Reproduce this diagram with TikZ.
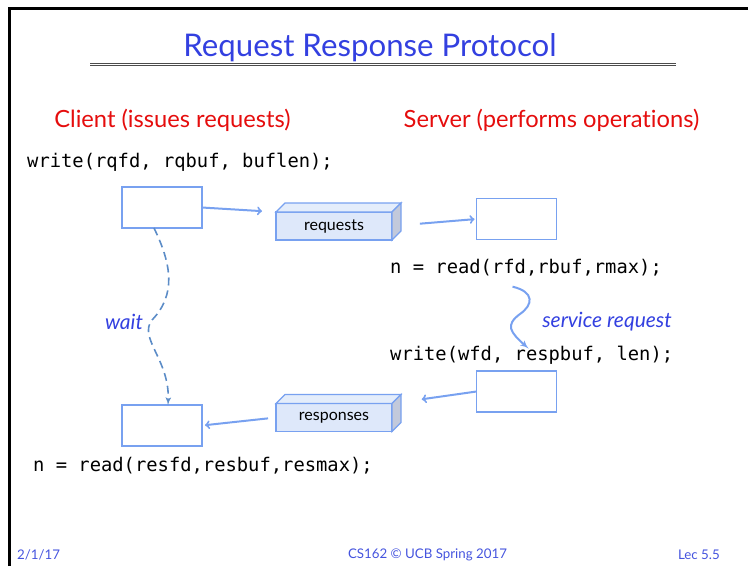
\documentclass[tikz,border=0pt]{standalone}
\usepackage{fontspec}
\setmainfont{Lato}[Ligatures=NoCommon]
\setmonofont{DejaVu Sans Mono}
\usetikzlibrary{arrows, positioning, calc}
\definecolor{slideblue}{rgb}{0.2, 0.25, 0.88}
\definecolor{slidered}{rgb}{0.9, 0.05, 0.05}
\definecolor{boxblue}{rgb}{0.47, 0.63, 0.94}
\definecolor{qfill}{rgb}{0.87, 0.91, 0.98}
\definecolor{qside}{rgb}{0.76, 0.79, 0.86}
\definecolor{waitblue}{rgb}{0.36, 0.55, 0.78}
\definecolor{footblue}{rgb}{0.27, 0.33, 0.87}

\begin{document}
\begin{tikzpicture}[x=1pt, y=-1pt, >=to,
    buf/.style={draw=boxblue, line width=1.3pt, fill=white, minimum width=80pt, minimum height=41pt, outer sep=0pt},
    queue/.style={draw=boxblue, line width=1.3pt, fill=qfill, minimum width=116pt, minimum height=28pt,
                  outer sep=0pt, font=\fontsize{16}{18}\selectfont},
    code/.style={anchor=west, inner sep=0pt, font=\ttfamily\fontsize{18.8}{22}\selectfont},
    heading/.style={text=slidered, inner sep=0pt, font=\fontsize{23.7}{28}\selectfont},
    note/.style={text=slideblue, inner sep=0pt, font=\itshape\fontsize{21}{24}\selectfont},
    foot/.style={inner sep=0pt, text=footblue, font=\fontsize{13.3}{15}\selectfont},
    flow/.style={->, draw=boxblue, line width=2pt}]
  \useasboundingbox (0,0) rectangle (748,566);
  \draw[line width=3pt] (9.5,566) -- (9.5,8) -- (748,8);

  % title
  \node[text=slideblue, inner sep=0pt, font=\fontsize{31.2}{36}\selectfont] (ttl) at (370,48) {Request Response Protocol};
  \draw[double=white, double distance=1pt, line width=1pt, black!70] (90,64) -- (676,64);

  \node[heading] (cli) at (172.5,120) {Client (issues requests)};
  \node[heading] (srv) at (551.5,120) {Server (performs operations)};

  % client side
  \node[code] (wr1) at (27,162) {write(rqfd, rqbuf, buflen);};
  \node[buf] (cbuf1) at (162,207.5) {};
  \node[buf] (cbuf2) at (162,425.5) {};
  \node[code] (rd2) at (33,466) {n = read(resfd,resbuf,resmax);};

  % kernel queues
  \node[queue] (req) at (334,226) {requests};
  \node[queue] (resp) at (334,417.5) {responses};
  \foreach \q in {req,resp} {
    \draw[draw=boxblue, line width=1.3pt, fill=qfill!80!white] (\q.north west) -- ([shift={(9,-9)}]\q.north west)
        -- ([shift={(9,-9)}]\q.north east) -- (\q.north east) -- cycle;
    \draw[draw=boxblue, line width=1.3pt, fill=qside] (\q.north east) -- ([shift={(9,-9)}]\q.north east)
        -- ([shift={(9,-9)}]\q.south east) -- (\q.south east) -- cycle;
  }

  % server side
  \node[buf] (sbuf1) at (516.5,219) {};
  \node[code] (rd1) at (390,268) {n = read(rfd,rbuf,rmax);};
  \node[code] (wr2) at (390,355) {write(wfd, respbuf, len);};
  \node[buf] (sbuf2) at (516.5,391.5) {};

  \draw[flow, shorten >=14pt] (cbuf1.east) -- (req.north west);
  \draw[flow, shorten <=28pt, shorten >=2pt] (req.east) -- (sbuf1.west);
  \draw[flow, shorten >=30pt] (sbuf2.west) -- (resp.north east);
  \draw[flow, shorten <=8pt, shorten >=3pt] (resp.west) -- (cbuf2.east);

  % wait / service
  \draw[->, >=latex', draw=waitblue, line width=1.6pt, dash pattern=on 8pt off 5pt]
    ([xshift=-8pt]cbuf1.south) .. controls (172,265) and (176,295) .. (152,320)
    .. controls (138,338) and (170,360) .. ([xshift=6pt]cbuf2.north);
  \node[note] (wt) at (124,322) {wait};
  \draw[->, >=latex', draw=boxblue, line width=2pt]
    ([xshift=-13.5pt, yshift=-10pt]rd1.south) .. controls (535,292) and (533,305) .. (520,314)
    .. controls (505,325) and (510,332) .. ([xshift=-3pt, yshift=-3pt]wr2.north);
  \node[note] (svc) at (607,322) {service request};

  % footer
  \node[foot, anchor=west] (dt) at (17,555) {2/1/17};
  \node[foot] (crs) at (427.5,555) {CS162 © UCB Spring 2017};
  \node[foot, anchor=east] (lec) at (720,555) {Lec 5.5};
\end{tikzpicture}
\end{document}
